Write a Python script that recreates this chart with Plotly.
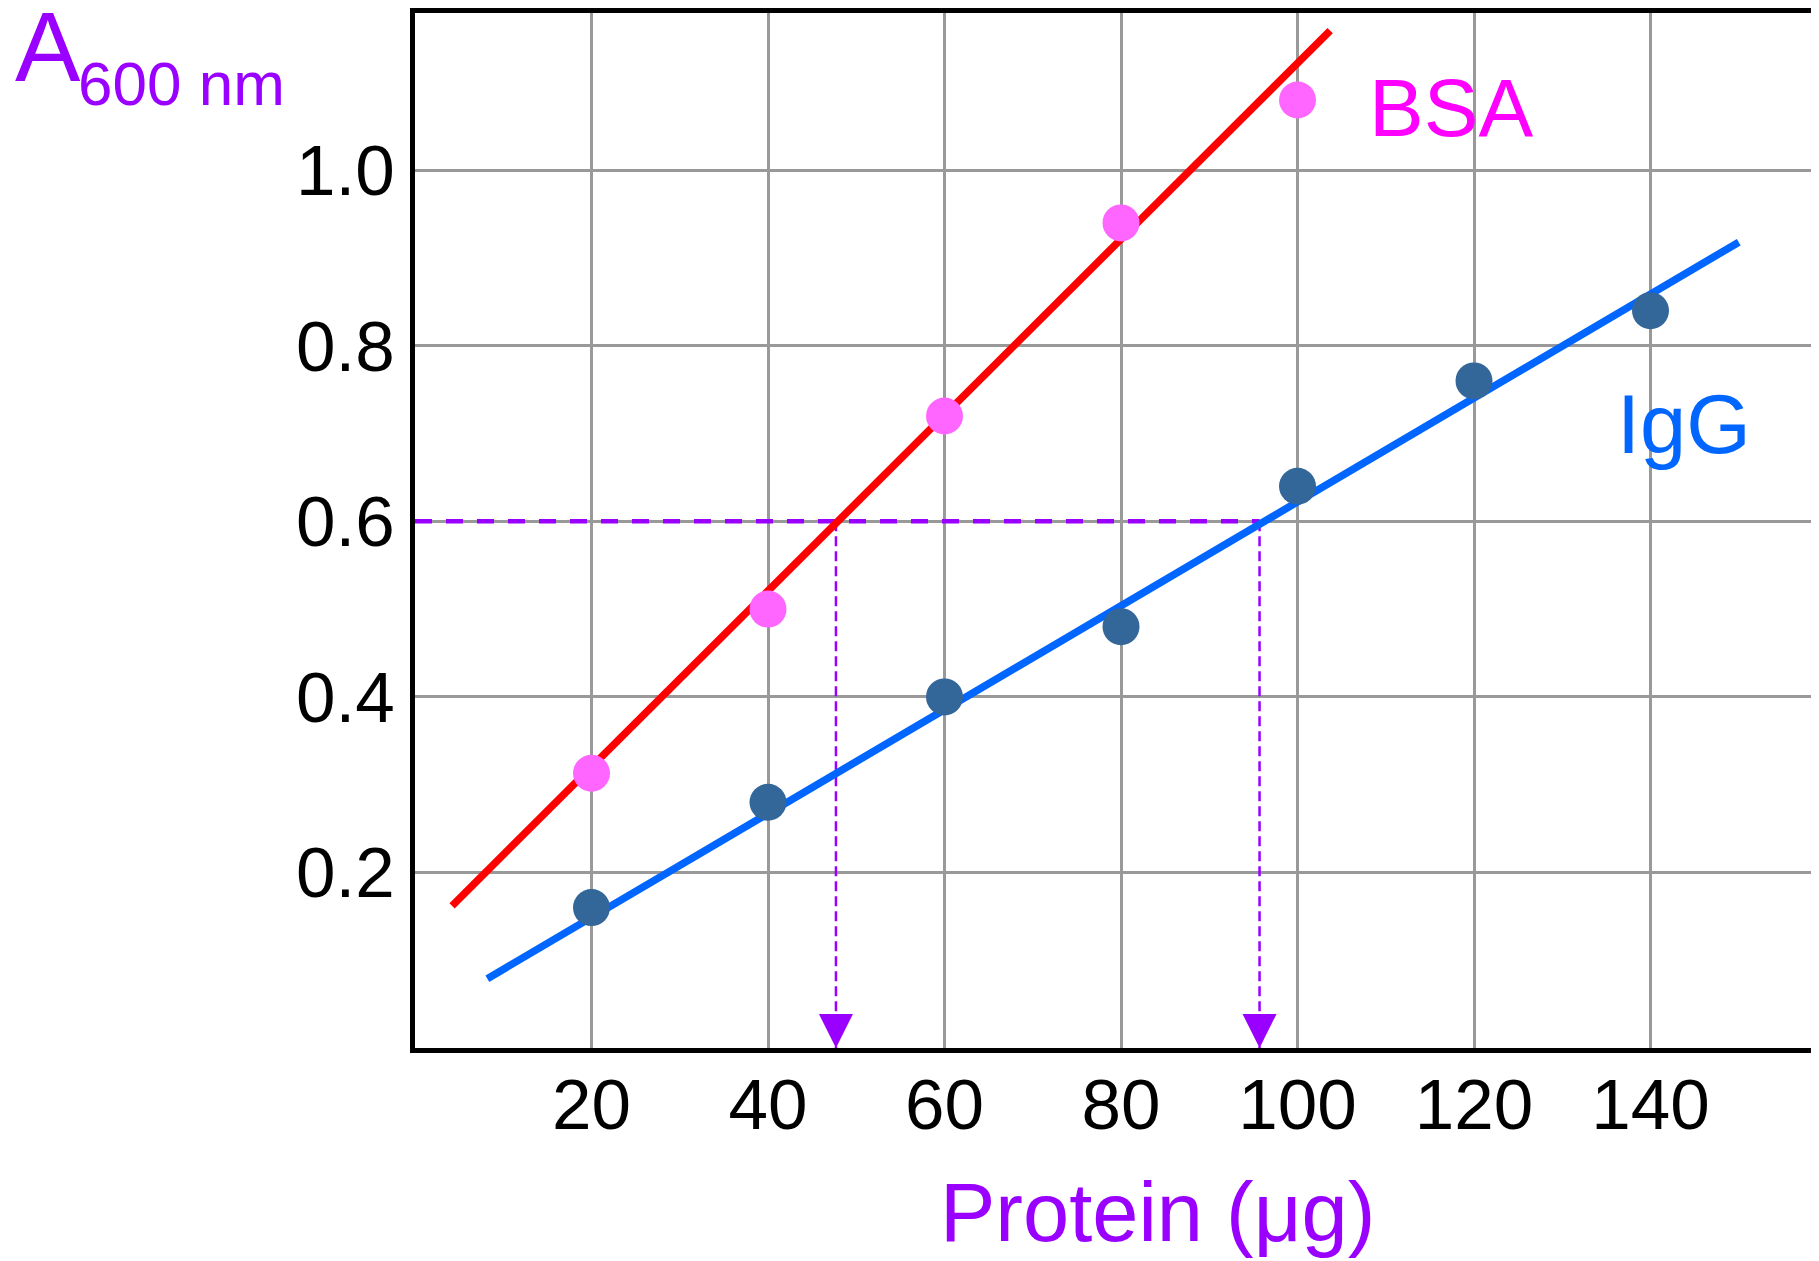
import plotly.graph_objects as go

# ---- data ----
protein_bsa = [20, 40, 60, 80, 100]
a600_bsa = [0.313, 0.50, 0.72, 0.94, 1.08]

protein_igg = [20, 40, 60, 80, 100, 120, 140]
a600_igg = [0.16, 0.28, 0.40, 0.48, 0.64, 0.76, 0.84]

bsa_fit_x = [4.2, 103.7]
bsa_fit_y = [0.162, 1.159]
igg_fit_x = [8.2, 150.0]
igg_fit_y = [0.079, 0.918]

target_a600 = 0.6
bsa_read_x = 47.7
igg_read_x = 95.7

x_ticks = [20, 40, 60, 80, 100, 120, 140]
y_ticks = [0.2, 0.4, 0.6, 0.8, 1.0]

FONT = "Liberation Sans, Arial, sans-serif"
PURPLE = "#9900ff"

OFF = 8  # default page body margin
W, H = 1819, 1261
PLOT_LEFT, PLOT_TOP, PLOT_BOTTOM = 415, 8, 1048  # page pixels
ML = PLOT_LEFT - OFF
MT = PLOT_TOP - OFF
MB = H - (PLOT_BOTTOM - OFF)
MR = 0
PW, PH = W - ML - MR, H - MT - MB
X_PER_PX = 20 / 176.5
Y_PER_PX = 1.0 / 882.0
x_range = [0, PW * X_PER_PX]
y_range = [0, PH * Y_PER_PX]


def px_to_paper(px, py):
    """page pixel -> paper coordinates"""
    return (px - PLOT_LEFT) / PW, (PLOT_BOTTOM - py) / PH


fig = go.Figure()

# horizontal dashed reading line
fig.add_trace(go.Scatter(
    x=[0, igg_read_x], y=[target_a600, target_a600], mode="lines",
    line=dict(color=PURPLE, width=4.5, dash="17px,14px"), hoverinfo="skip", showlegend=False))
# vertical dotted reading lines
for xr in [bsa_read_x, igg_read_x]:
    fig.add_trace(go.Scatter(
        x=[xr, xr], y=[target_a600, 0], mode="lines",
        line=dict(color=PURPLE, width=2.5, dash="10px,5px"), hoverinfo="skip", showlegend=False))

# fit lines
fig.add_trace(go.Scatter(x=bsa_fit_x, y=bsa_fit_y, mode="lines",
                         line=dict(color="#ff0000", width=7.5), showlegend=False))
fig.add_trace(go.Scatter(x=igg_fit_x, y=igg_fit_y, mode="lines",
                         line=dict(color="#0066ff", width=7.5), showlegend=False))

# data points
fig.add_trace(go.Scatter(x=protein_bsa, y=a600_bsa, mode="markers", name="BSA",
                         marker=dict(color="#ff66ff", size=37, line=dict(width=0)), showlegend=False))
fig.add_trace(go.Scatter(x=protein_igg, y=a600_igg, mode="markers", name="IgG",
                         marker=dict(color="#336699", size=37, line=dict(width=0)), showlegend=False))

annotations = []
# arrowheads at the bottom of the reading lines
for xr in [bsa_read_x, igg_read_x]:
    annotations.append(dict(x=xr, y=0, xref="x", yref="y", text="", showarrow=True,
                            ax=0, ay=-30, arrowhead=2, arrowsize=3.4, arrowwidth=2,
                            arrowcolor=PURPLE))

annotations.append(dict(x=107.9, y=1.071, xref="x", yref="y", text="BSA", showarrow=False,
                        xanchor="left", yanchor="middle",
                        font=dict(family=FONT, size=82, color="#ff00ff")))
annotations.append(dict(x=136.0, y=0.710, xref="x", yref="y", text="IgG", showarrow=False,
                        xanchor="left", yanchor="middle",
                        font=dict(family=FONT, size=83, color="#0066ff")))

ax_, ay_ = px_to_paper(13, 42.5)
annotations.append(dict(x=ax_, y=ay_, xref="paper", yref="paper", text="A", showarrow=False,
                        xanchor="left", yanchor="middle",
                        font=dict(family=FONT, size=98, color=PURPLE)))
sx_, sy_ = px_to_paper(76, 78.5)
annotations.append(dict(x=sx_, y=sy_, xref="paper", yref="paper", text="600 nm", showarrow=False,
                        xanchor="left", yanchor="middle",
                        font=dict(family=FONT, size=62, color=PURPLE)))
tx_, ty_ = px_to_paper(938, 1213)
annotations.append(dict(x=tx_, y=ty_, xref="paper", yref="paper", text="Protein (\u03bcg)",
                        showarrow=False, xanchor="left", yanchor="middle",
                        font=dict(family=FONT, size=83, color=PURPLE)))
# partially visible credit text at the bottom edge
cx_, cy_ = px_to_paper(1670, 1285)
annotations.append(dict(x=cx_, y=cy_, xref="paper", yref="paper", text="I", showarrow=False,
                        xanchor="left", yanchor="middle",
                        font=dict(family=FONT, size=55, color="#000000")))
cx2_, cy2_ = px_to_paper(1774, 1285)
annotations.append(dict(x=cx2_, y=cy2_, xref="paper", yref="paper", text="PH", showarrow=False,
                        xanchor="left", yanchor="middle",
                        font=dict(family=FONT, size=55, color="#000000")))

fig.update_layout(
    width=W, height=H,
    margin=dict(l=ML, r=MR, t=MT, b=MB, pad=0),
    paper_bgcolor="white", plot_bgcolor="white",
    showlegend=False,
    annotations=annotations,
    xaxis=dict(range=x_range, tickmode="array", tickvals=x_ticks,
               ticktext=[str(v) for v in x_ticks], ticks="", ticklabelstandoff=-9,
               tickfont=dict(family=FONT, size=71, color="black"),
               showgrid=True, gridcolor="#999999", gridwidth=2.5,
               showline=True, linecolor="black", linewidth=5, mirror=True,
               zeroline=False, fixedrange=True),
    yaxis=dict(range=y_range, tickmode="array", tickvals=y_ticks,
               ticktext=["%.1f" % v for v in y_ticks], ticks="", ticklabelstandoff=1,
               tickfont=dict(family=FONT, size=71, color="black"),
               showgrid=True, gridcolor="#999999", gridwidth=2.5,
               showline=True, linecolor="black", linewidth=5, mirror=False,
               zeroline=False, fixedrange=True),
)

fig.write_html("out.html")
